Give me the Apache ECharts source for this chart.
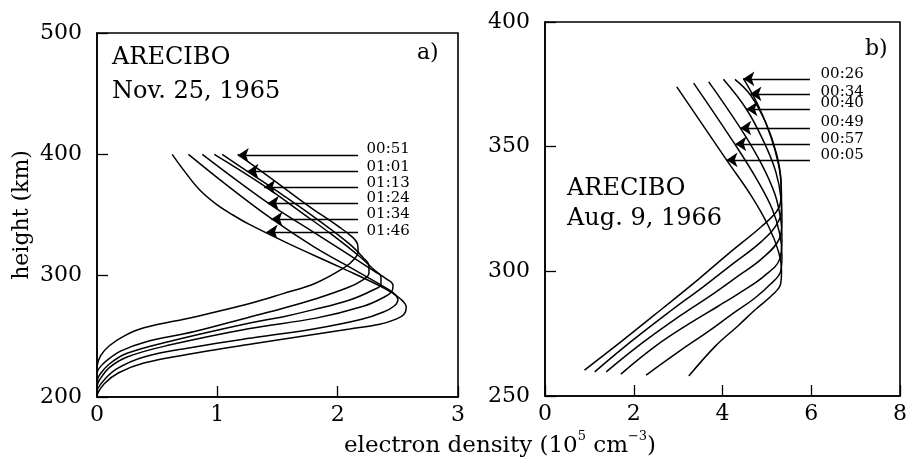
<!DOCTYPE html>
<html>
<head>
<meta charset="utf-8">
<script src="https://cdn.jsdelivr.net/npm/echarts@6/dist/echarts.min.js"></script>
<style>
  html, body { margin: 0; padding: 0; background: #fff; }
  #chart { width: 910px; height: 467px; }
</style>
</head>
<body>
<div id="chart"></div>
<script>
// 电子密度剖面 (10^5 cm^-3, km)
// a) Arecibo, Nov. 25, 1965
var novTimes = ["00:51", "01:01", "01:13", "01:24", "01:34", "01:46"];
var nov0051 = [[1.17,400],[1.45,380],[1.75,358],[2.0,341],[2.12,332],[2.165,326],[2.17,320],[2.14,314],[2.06,307],[1.82,294],[1.54,285],[1.27,277],[0.81,266],[0.39,257],[0.22,250],[0.1,242],[0.03,234],[0,225]];
var nov0101 = [[1.04,400],[1.25,386],[1.55,366],[1.85,345],[2.1,326],[2.21,315],[2.26,308],[2.26,302],[2.2,296],[2.08,290],[1.82,281],[1.54,273],[1.27,266],[0.81,254],[0.39,245],[0.2,238],[0.08,230],[0.02,224],[0,220]];
var nov0113 = [[0.975,400],[1.39,374],[1.7,352],[1.95,334],[2.18,316],[2.3,305],[2.36,299],[2.36,293],[2.29,288],[2.1,280],[1.8,272],[1.54,266],[1.27,261],[0.61,246],[0.25,236],[0.1,227],[0.02,218],[0,213]];
var nov0124 = [[0.875,400],[1.42,360],[1.75,339],[2.05,320],[2.3,304],[2.41,297],[2.46,292],[2.45,287],[2.38,282],[2.22,275],[1.82,265],[1.27,256.5],[0.61,243],[0.25,233],[0.1,224],[0.02,214],[0,209]];
var nov0134 = [[0.76,400],[1.1,373],[1.45,347],[1.8,324],[2.1,307],[2.33,294],[2.46,286],[2.5,280],[2.47,275],[2.38,270],[2.2,264],[1.8,256],[1.31,249],[0.8,241],[0.39,233],[0.16,223],[0.05,213],[0,206]];
var nov0146 = [[0.625,400],[0.72,387],[0.85,371],[0.99,359],[1.13,350],[1.27,342],[1.6,326],[2.02,307],[2.4,289],[2.52,281],[2.57,274],[2.55,268],[2.48,264],[2.35,260],[2.1,256],[1.31,244],[0.81,236],[0.39,228],[0.18,220],[0.06,211],[0,202]];
var novArrowTips = [[1.17,399.2],[1.25,386.1],[1.39,373],[1.42,359.8],[1.45,346.7],[1.41,336.1]];

// b) Arecibo, Aug. 9, 1966
var augTimes = ["00:26", "00:34", "00:40", "00:49", "00:57", "00:05"];
var aug0026 = [[4.47,377.4],[4.82,366],[5.09,354],[5.26,343],[5.32,334],[5.31,328],[5.22,324],[4.88,318],[4.13,307],[3.47,297],[2.64,285],[1.73,272],[0.89,260.4]];
var aug0034 = [[4.28,377],[4.63,370.7],[4.99,359],[5.22,347],[5.32,336],[5.33,327],[5.26,320],[4.88,312],[4.23,303],[3.58,294],[2.82,284],[1.95,272],[1.12,259.7]];
var aug0040 = [[4.02,377],[4.54,365],[4.93,352],[5.2,340],[5.32,329],[5.34,320],[5.28,313],[4.88,305],[4.34,298],[3.79,291],[3.03,282],[2.17,271],[1.38,259.7]];
var aug0049 = [[3.69,376],[4.4,357.5],[4.88,343],[5.18,331],[5.31,321],[5.34,313],[5.29,305],[4.93,298],[4.44,292],[3.9,286],[3.25,279],[2.49,270],[1.71,258.8]];
var aug0057 = [[3.35,375.5],[4.29,350.7],[4.77,337],[5.12,325],[5.29,315],[5.34,306],[5.31,300],[5.09,295],[4.71,289],[4.23,283],[3.69,276],[3.03,268],[2.28,258.4]];
var aug0005 = [[2.97,374],[4.09,344.7],[4.66,330],[5.04,318],[5.26,308],[5.33,300],[5.31,295],[5.15,291],[4.73,284.5],[4.34,278],[3.84,270],[3.24,258]];
var augArrowTips = [[4.47,377.2],[4.63,371.2],[4.54,365.1],[4.4,357.5],[4.29,351.1],[4.09,344.7]];

var serif = "DejaVu Serif";
var novCurves = [nov0051, nov0101, nov0113, nov0124, nov0134, nov0146];
var augCurves = [aug0026, aug0034, aug0040, aug0049, aug0057, aug0005];

var chart = echarts.init(document.getElementById("chart"));

function axisX(idx, max, interval) {
  return {
    gridIndex: idx, type: "value", min: 0, max: max, interval: interval,
    axisLine: { show: true, onZero: false, lineStyle: { color: "#000", width: 1.6 } },
    axisTick: { inside: true, length: 11, lineStyle: { color: "#000", width: 1.3 } },
    axisLabel: { color: "#000", fontFamily: serif, fontSize: 22, margin: 7 },
    splitLine: { show: false }
  };
}
function axisY(idx, min, max, interval) {
  return {
    gridIndex: idx, type: "value", min: min, max: max, interval: interval,
    axisLine: { show: true, onZero: false, lineStyle: { color: "#000", width: 1.6 } },
    axisTick: { inside: true, length: 11, lineStyle: { color: "#000", width: 1.3 } },
    axisLabel: { color: "#000", fontFamily: serif, fontSize: 22, margin: 15 },
    splitLine: { show: false }
  };
}

var series = [];
// 剖面曲线
novCurves.forEach(function (d) {
  series.push({
    type: "line", xAxisIndex: 0, yAxisIndex: 0, data: d, smooth: 0.4,
    showSymbol: false, silent: true, lineStyle: { color: "#000", width: 1.5 }
  });
});
augCurves.forEach(function (d) {
  series.push({
    type: "line", xAxisIndex: 1, yAxisIndex: 1, data: d, smooth: 0.4,
    showSymbol: false, silent: true, lineStyle: { color: "#000", width: 1.5 }
  });
});
// 箭头
function arrowSeries(xi, startX, tips) {
  return {
    type: "lines", coordinateSystem: "cartesian2d", xAxisIndex: xi, yAxisIndex: xi,
    symbol: ["none", "arrow"], symbolSize: [6, 11], silent: true,
    lineStyle: { color: "#000", width: 1.4, opacity: 1, curveness: 0 },
    data: tips.map(function (p) { return { coords: [[startX, p[1]], p] }; })
  };
}
series.push(arrowSeries(0, 2.17, novArrowTips));
series.push(arrowSeries(1, 5.97, augArrowTips));
// 时间标签
var novLabelH = [404.1, 389.3, 376.2, 363.9, 350.8, 336.9];
var augLabelH = [379.2, 371.9, 367.5, 359.9, 353.1, 346.7];
function labelSeries(xi, x, hs, names) {
  return {
    type: "scatter", xAxisIndex: xi, yAxisIndex: xi, symbolSize: 0, silent: true,
    itemStyle: { color: "#000" },
    label: {
      show: true, position: "right", distance: 0, color: "#000", opacity: 1,
      fontFamily: serif, fontSize: 15,
      formatter: function (p) { return p.value[2]; }
    },
    data: hs.map(function (h, i) { return [x, h, names[i]]; })
  };
}
series.push(labelSeries(0, 2.24, novLabelH, novTimes));
series.push(labelSeries(1, 6.21, augLabelH, augTimes));

function txt(x, y, s, size) {
  return { type: "text", left: x, top: y, silent: true,
    style: { text: s, fill: "#000", font: size + "px " + serif } };
}

var option = {
  backgroundColor: "#fff",
  animation: false,
  grid: [
    { left: 97, top: 33, width: 361, height: 364, show: true, borderColor: "#000", borderWidth: 1.6 },
    { left: 545, top: 22, width: 358, height: 374, show: true, borderColor: "#000", borderWidth: 1.6 }
  ],
  xAxis: [axisX(0, 3, 1), axisX(1, 8, 2)],
  yAxis: [
    Object.assign(axisY(0, 200, 500, 100), {
      name: "height (km)", nameLocation: "middle", nameGap: 64,
      nameTextStyle: { color: "#000", fontFamily: serif, fontSize: 22 }
    }),
    axisY(1, 250, 400, 50)
  ],
  graphic: [
    txt(112, 46, "ARECIBO", 24),
    txt(112, 80, "Nov. 25, 1965", 24),
    txt(417, 42, "a)", 22),
    txt(567, 177, "ARECIBO", 24),
    txt(567, 207, "Aug. 9, 1966", 24),
    txt(865, 38, "b)", 22),
    {
      type: "text", x: 500, y: 430, silent: true,
      style: {
        text: "{a|electron density (10}{s|5}{a| cm}{s|−3}{a|)}",
        align: "center",
        rich: {
          a: { fontFamily: serif, fontSize: 23, fill: "#000", verticalAlign: "bottom", lineHeight: 28 },
          s: { fontFamily: serif, fontSize: 13, fill: "#000", verticalAlign: "top", lineHeight: 28 }
        }
      }
    }
  ],
  series: series
};
chart.setOption(option);
</script>
</body>
</html>
